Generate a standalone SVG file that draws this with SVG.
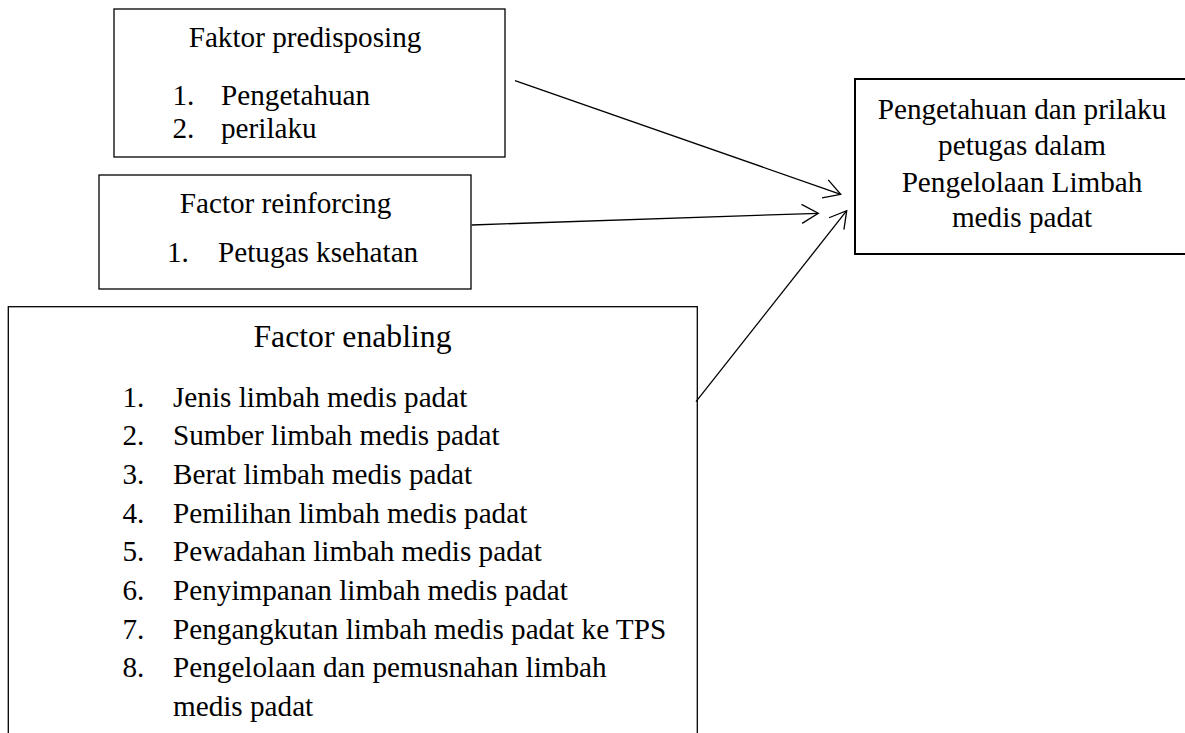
<svg xmlns="http://www.w3.org/2000/svg" width="1185" height="733" viewBox="0 0 1185 733" font-family="'Liberation Serif', 'Times New Roman', Times, serif">
<style>
  .box { fill: #fff; stroke: #000; stroke-width: 1.3; }
  .box-thick { fill: #fff; stroke: #000; stroke-width: 2; }
  .t { font-family: 'Liberation Serif', 'Times New Roman', Times, serif; font-size: 29.2px; fill: #000; }
  .c { text-anchor: middle; }
  .title { font-size: 31.7px; }
  .conn { stroke: #000; stroke-width: 1.3; fill: none; }
</style>
<defs>
  <marker id="openArrow" markerUnits="userSpaceOnUse" viewBox="-20 -12 22 24" refX="0" refY="0" markerWidth="22" markerHeight="24" orient="auto">
    <path d="M-16.5,-9.5 L0,0 L-16.5,9.5" fill="none" stroke="#000" stroke-width="1.3"/>
  </marker>
</defs>
<rect width="1185" height="733" fill="#fff"/>

<g id="node-predisposing" class="t">
  <rect class="box" x="114" y="9" width="391" height="148"/>
  <text class="c" x="305" y="46.7">Faktor predisposing</text>
  <text x="172.5" y="105">1.</text>
  <text x="221" y="105">Pengetahuan</text>
  <text x="172.5" y="138.3">2.</text>
  <text x="221" y="138.3">perilaku</text>
</g>

<g id="node-reinforcing" class="t">
  <rect class="box" x="99" y="175" width="372" height="114"/>
  <text class="c" x="285.5" y="213.3">Factor reinforcing</text>
  <text x="167" y="261.7">1.</text>
  <text x="218" y="261.7">Petugas ksehatan</text>
</g>

<g id="node-enabling" class="t">
  <rect class="box" x="8.3" y="306.7" width="689" height="450"/>
  <text class="c title" x="352.5" y="346.7">Factor enabling</text>
  <text x="122.5" y="406.7">1.</text>
  <text x="173" y="406.7">Jenis limbah medis padat</text>
  <text x="122.5" y="445.2">2.</text>
  <text x="173" y="445.2">Sumber limbah medis padat</text>
  <text x="122.5" y="483.8">3.</text>
  <text x="173" y="483.8">Berat limbah medis padat</text>
  <text x="122.5" y="522.5">4.</text>
  <text x="173" y="522.5">Pemilihan limbah medis padat</text>
  <text x="122.5" y="561.2">5.</text>
  <text x="173" y="561.2">Pewadahan limbah medis padat</text>
  <text x="122.5" y="599.8">6.</text>
  <text x="173" y="599.8">Penyimpanan limbah medis padat</text>
  <text x="122.5" y="638.5">7.</text>
  <text x="173" y="638.5">Pengangkutan limbah medis padat ke TPS</text>
  <text x="122.5" y="677.1">8.</text>
  <text x="173" y="677.1">Pengelolaan dan pemusnahan limbah</text>
  <text x="173" y="715.7">medis padat</text>
</g>

<g id="node-outcome" class="t">
  <rect class="box-thick" x="855" y="79" width="340" height="175"/>
  <text class="c" x="1022" y="118.5">Pengetahuan dan prilaku</text>
  <text class="c" x="1022" y="155">petugas dalam</text>
  <text class="c" x="1022" y="191.5">Pengelolaan Limbah</text>
  <text class="c" x="1022" y="227">medis padat</text>
</g>

<g id="connectors">
  <line class="conn" x1="515" y1="80.7" x2="840.7" y2="194.3" marker-end="url(#openArrow)"/>
  <line class="conn" x1="471.7" y1="225" x2="818.3" y2="213.3" marker-end="url(#openArrow)"/>
  <line class="conn" x1="696" y1="401.7" x2="846.7" y2="210.7" marker-end="url(#openArrow)"/>
</g>
</svg>
